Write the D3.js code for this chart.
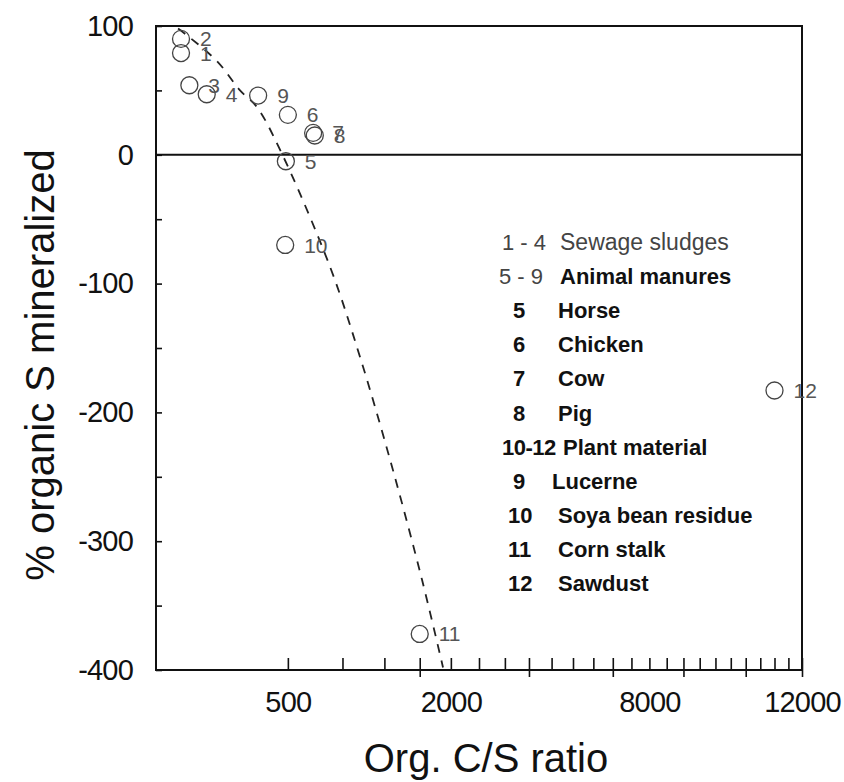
<!DOCTYPE html>
<html>
<head>
<meta charset="utf-8">
<script src="https://cdn.jsdelivr.net/npm/d3@7"></script>
<style>
  body { margin: 0; background: #fff; }
  text { font-family: "Liberation Sans", Arial, sans-serif; }
</style>
</head>
<body>
<div id="chart"></div>
<script>
// sample id, org. C/S ratio, % organic S mineralized
var ids = ["1", "2", "3", "4", "5", "6", "7", "8", "9", "10", "11", "12"];
var csRatio = [18, 18, 32, 74, 485, 500, 710, 725, 300, 480, 2000, 11000];
var mineralized = [79, 90, 54, 47, -5, 31, 17, 15, 46, -70, -372, -183];

// dashed trend line
var curveCS = [14, 33, 110, 203, 293, 442, 871, 1197, 1601, 2035, 2369];
var curveS = [98, 91, 72, 50, 37, 4, -87, -157, -242, -330, -398];

// axis labels (the original prints them next to these ticks)
var xTickLabels = ["500", "2000", "8000", "12000"];
var xLabelAt = [500, 2500, 7000, 12000];
var yTicks = d3.range(-400, 101, 50);

var legendNums = ["1 - 4", "5 - 9", "5", "6", "7", "8", "10-12", "9", "10", "11", "12"];
var legendNames = ["Sewage sludges", "Animal manures", "Horse", "Chicken", "Cow", "Pig",
                   "Plant material", "Lucerne", "Soya bean residue", "Corn stalk", "Sawdust"];

function init(){
    var W = 844, H = 782;
    var margin = {top: 26, right: 42, bottom: 112, left: 156};
    var w = W - margin.left - margin.right;
    var h = H - margin.top - margin.bottom;

    var svg = d3.select("#chart")
                .append("svg")
                .attr("width", W)
                .attr("height", H)
                .append("g")
                .attr("transform", "translate(" + margin.left + "," + margin.top + ")");

    var xScale = d3.scaleSqrt().domain([0, 12000]).range([0, w]);
    var yScale = d3.scaleLinear().domain([100, -400]).range([0, h]);

    // ticks on the bottom: minor inward every 500, major crossing every 2000
    var minor = svg.append("g")
        .attr("transform", "translate(0," + h + ")")
        .call(d3.axisBottom(xScale).tickValues(d3.range(500, 12001, 500))
              .tickSize(-12).tickFormat(""));
    var major = svg.append("g")
        .attr("transform", "translate(0," + h + ")")
        .call(d3.axisBottom(xScale).tickValues(d3.range(2000, 12001, 2000))
              .tickSize(7).tickFormat(""));
    var xlab = svg.append("g")
        .attr("transform", "translate(0," + h + ")")
        .call(d3.axisBottom(xScale).tickValues(xLabelAt).tickSize(0).tickPadding(21)
              .tickFormat(function(d, i){ return xTickLabels[i]; }));

    var yax = svg.append("g")
        .call(d3.axisLeft(yScale).tickValues(yTicks).tickSize(-6).tickPadding(23)
              .tickFormat(function(d){ return d % 100 === 0 ? d : ""; }));

    [minor, major, xlab, yax].forEach(function(g){
        g.select(".domain").remove();
        g.selectAll(".tick line").attr("stroke", "#111").attr("stroke-width", 1.6);
        g.selectAll("text").attr("font-size", 29).attr("fill", "#111")
            .attr("font-family", "Liberation Sans, Arial, sans-serif")
            .attr("letter-spacing", -0.8);
    });

    // frame and zero line
    svg.append("rect")
        .attr("width", w).attr("height", h)
        .attr("fill", "none").attr("stroke", "#111").attr("stroke-width", 2);
    svg.append("line")
        .attr("x1", 0).attr("x2", w)
        .attr("y1", yScale(0)).attr("y2", yScale(0))
        .attr("stroke", "#111").attr("stroke-width", 2);

    // trend line
    var line = d3.line()
        .x(function(d){ return xScale(d[0]); })
        .y(function(d){ return yScale(d[1]); })
        .curve(d3.curveCatmullRom);
    svg.append("path")
        .datum(d3.zip(curveCS, curveS))
        .attr("d", line)
        .attr("fill", "none")
        .attr("stroke", "#222")
        .attr("stroke-width", 1.8)
        .attr("stroke-dasharray", "9,8");

    // sample points
    var pts = d3.zip(csRatio, mineralized, ids);
    svg.selectAll("circle.pt")
        .data(pts)
        .enter().append("circle")
        .attr("class", "pt")
        .attr("cx", function(d){ return xScale(d[0]); })
        .attr("cy", function(d){ return yScale(d[1]); })
        .attr("r", 8.5)
        .attr("fill", "none")
        .attr("stroke", "#444")
        .attr("stroke-width", 1.3);
    svg.selectAll("text.pt")
        .data(pts)
        .enter().append("text")
        .attr("class", "pt")
        .attr("x", function(d){ return xScale(d[0]) + 19; })
        .attr("y", function(d){ return yScale(d[1]); })
        .attr("dy", "0.36em")
        .attr("font-size", 21)
        .attr("fill", "#555")
        .text(function(d){ return d[2]; });

    // legend
    var numX = [346, 343, 357, 357, 357, 357, 346, 357, 352, 352, 352];
    var nameX = [404, 404, 402, 402, 402, 402, 407, 396, 402, 402, 402];
    var leg = svg.append("g");
    legendNames.forEach(function(name, i){
        var y = 224 + i * 34.1;
        leg.append("text").attr("x", numX[i]).attr("y", y)
            .attr("font-size", 22)
            .attr("font-weight", i < 2 ? "normal" : "bold")
            .attr("fill", i < 2 ? "#444" : "#111")
            .attr("letter-spacing", i === 6 ? -0.5 : 0)
            .text(legendNums[i]);
        leg.append("text").attr("x", nameX[i]).attr("y", y)
            .attr("font-size", i === 0 ? 23 : 22)
            .attr("font-weight", i === 0 ? "normal" : "bold")
            .attr("fill", i === 0 ? "#444" : "#111")
            .text(name);
    });

    // axis titles
    svg.append("text")
        .attr("x", w / 2 + 7).attr("y", h + 102)
        .attr("text-anchor", "middle")
        .attr("font-size", 40)
        .attr("fill", "#111")
        .text("Org. C/S ratio");
    svg.append("text")
        .attr("transform", "translate(" + (-102) + "," + (h / 2 + 17) + ") rotate(-90)")
        .attr("text-anchor", "middle")
        .attr("font-size", 40)
        .attr("fill", "#111")
        .text("% organic S mineralized");
}
window.onload = init;
</script>
</body>
</html>
